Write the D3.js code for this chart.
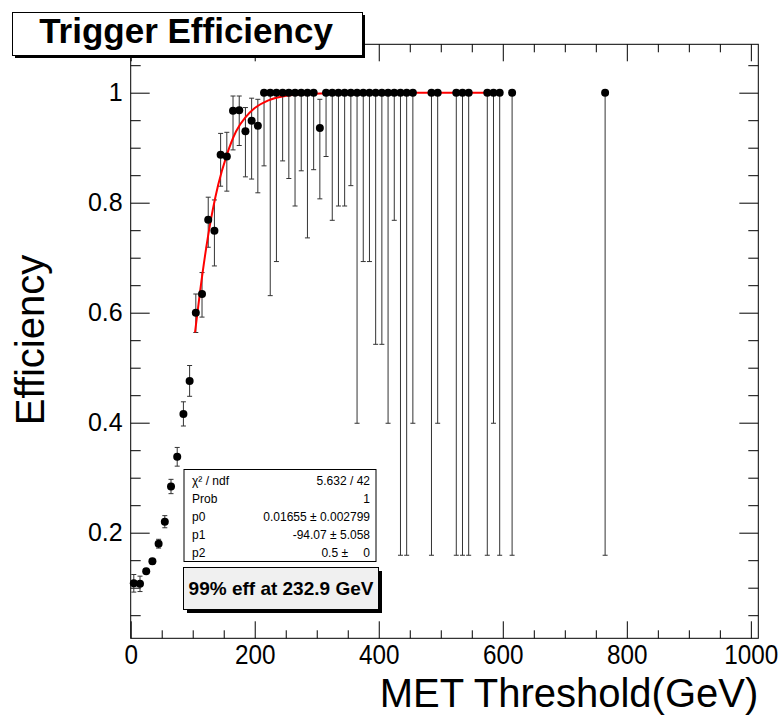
<!DOCTYPE html>
<html>
<head>
<meta charset="utf-8">
<script src="https://cdn.jsdelivr.net/npm/d3@7"></script>
<style>
  body { margin: 0; background: #fff; }
  text { font-family: "Liberation Sans", Arial, sans-serif; }
</style>
</head>
<body>
<div id="chart"></div>
<script>
// bin centres (GeV), efficiency and asymmetric errors
var metBins = [5, 15, 25, 35, 45, 55, 65, 75, 85, 95,
    105, 115, 125, 135, 145, 155, 165, 175, 185, 195,
    205, 215, 225, 235, 245, 255, 265, 275, 285, 295,
    305, 315, 325, 335, 345, 355, 365, 375, 385, 395,
    405, 415, 425, 435, 445, 455, 485, 495, 525, 535,
    545, 575, 585, 595, 615, 765];
var effValues = [0.108, 0.107, 0.130, 0.148, 0.180, 0.220, 0.284, 0.338, 0.416, 0.476,
    0.600, 0.634, 0.769, 0.749, 0.887, 0.884, 0.967, 0.968, 0.930, 0.949,
    0.940, 1, 1, 1, 1, 1, 1, 1, 1, 1,
    0.936, 1, 1, 1, 1, 1, 1, 1, 1, 1,
    1, 1, 1, 1, 1, 1, 1, 1, 1, 1,
    1, 1, 1, 1, 1, 1];
var errLow = [0.016, 0.014, 0.004, 0.005, 0.008, 0.011, 0.013, 0.017, 0.022, 0.028,
    0.036, 0.042, 0.050, 0.064, 0.057, 0.063, 0.071, 0.064, 0.083, 0.106,
    0.122, 0.133, 0.369, 0.307, 0.124, 0.156, 0.206, 0.142, 0.264, 0.140,
    0.129, 0.116, 0.232, 0.206, 0.206, 0.169, 0.601, 0.307, 0.307, 0.4575,
    0.4575, 0.601, 0.232, 0.841, 0.841, 0.601, 0.841, 0.601, 0.841, 0.841,
    0.841, 0.841, 0.601, 0.841, 0.841, 0.841];
var errHigh = [0.016, 0.014, 0.004, 0.005, 0.008, 0.011, 0.013, 0.017, 0.022, 0.028,
    0.034, 0.039, 0.041, 0.056, 0.039, 0.044, 0.027, 0.026, 0.043, 0.041,
    0.048, 0, 0, 0, 0, 0, 0, 0, 0, 0,
    0.052, 0, 0, 0, 0, 0, 0, 0, 0, 0,
    0, 0, 0, 0, 0, 0, 0, 0, 0, 0,
    0, 0, 0, 0, 0, 0];

// fit curve, sampled from the red line
var fitX = [103.7, 111.8, 125, 141, 155, 170, 185, 200, 222, 249, 276, 320, 400, 500, 599];
var fitY = [0.564, 0.638, 0.741, 0.832, 0.887, 0.930, 0.955, 0.972, 0.986, 0.994, 0.997, 0.999, 1, 1, 1];

var xMajor = [0, 200, 400, 600, 800, 1000],
    yMajor = [0.2, 0.4, 0.6, 0.8, 1];

var statRows = [["\u03c7\u00b2 / ndf", "5.632 / 42"], ["Prob", "1"],
    ["p0", "0.01655 \u00b1 0.002799"], ["p1", "-94.07 \u00b1 5.058"], ["p2", "0.5 \u00b1"]];

var width = 784,
    height = 720;

var frame = {left: 130.7, right: 758.3, top: 44.3, bottom: 638.3};

var svg = d3.select("#chart")
    .append("svg")
    .attr("width", width)
    .attr("height", height);

var x = d3.scaleLinear().domain([0, 1012]).range([frame.left, frame.right]);
var y = d3.scaleLinear().domain([0.008, 1.088]).range([frame.bottom, frame.top]);

var xMinor = d3.range(0, 1001, 50).filter(function(d) { return d % 200 != 0; });
var yMinor = d3.range(1, 22).map(function(i) { return +(i * 0.05).toFixed(2); })
    .filter(function(d) { return yMajor.indexOf(d) < 0; });

// frame
svg.append("rect")
    .attr("x", frame.left).attr("y", frame.top)
    .attr("width", frame.right - frame.left)
    .attr("height", frame.bottom - frame.top)
    .attr("fill", "none").attr("stroke", "#000").attr("stroke-width", 1);

function styleAxis(g) {
    g.select(".domain").remove();
    g.selectAll("line").attr("stroke", "#000");
}

// bottom axis with labels (narrow digits as in the original)
svg.append("g")
    .attr("transform", "translate(0," + frame.bottom + ")")
    .call(d3.axisBottom(x).tickValues(xMajor).tickSize(-17).tickSizeOuter(0).tickPadding(7)
        .tickFormat(function(d) { return String(d); }))
    .call(styleAxis)
    .selectAll("text")
    .attr("font-size", "27px")
    .attr("transform", "scale(0.9,1)")
    .attr("fill", "#000");
svg.append("g")
    .attr("transform", "translate(0," + frame.bottom + ")")
    .call(d3.axisBottom(x).tickValues(xMinor).tickSize(-8).tickFormat(""))
    .call(styleAxis);

// top axis, ticks only
svg.append("g")
    .attr("transform", "translate(0," + frame.top + ")")
    .call(d3.axisTop(x).tickValues(xMajor).tickSize(-17).tickFormat(""))
    .call(styleAxis);
svg.append("g")
    .attr("transform", "translate(0," + frame.top + ")")
    .call(d3.axisTop(x).tickValues(xMinor).tickSize(-8).tickFormat(""))
    .call(styleAxis);

// left axis with labels
svg.append("g")
    .attr("transform", "translate(" + frame.left + ",0)")
    .call(d3.axisLeft(y).tickValues(yMajor).tickSize(-19).tickPadding(8)
        .tickFormat(function(d) { return String(d); }))
    .call(styleAxis)
    .selectAll("text")
    .attr("font-size", "25px")
    .attr("fill", "#000");
svg.append("g")
    .attr("transform", "translate(" + frame.left + ",0)")
    .call(d3.axisLeft(y).tickValues(yMinor).tickSize(-10).tickFormat(""))
    .call(styleAxis);

// right axis, ticks only
svg.append("g")
    .attr("transform", "translate(" + frame.right + ",0)")
    .call(d3.axisRight(y).tickValues(yMajor).tickSize(-19).tickFormat(""))
    .call(styleAxis);
svg.append("g")
    .attr("transform", "translate(" + frame.right + ",0)")
    .call(d3.axisRight(y).tickValues(yMinor).tickSize(-10).tickFormat(""))
    .call(styleAxis);

// axis titles
svg.append("text")
    .attr("x", frame.right).attr("y", 707)
    .attr("text-anchor", "end")
    .attr("font-size", "40px")
    .text("MET Threshold(GeV)");

svg.append("text")
    .attr("transform", "translate(44,340) rotate(-90)")
    .attr("text-anchor", "middle")
    .attr("font-size", "40px")
    .text("Efficiency");

// data
var points = metBins.map(function(d, i) {
    return {x: d, y: effValues[i], lo: errLow[i], hi: errHigh[i]};
});

var bars = svg.append("g").attr("stroke", "#333").attr("stroke-width", 1);

bars.selectAll(".err")
    .data(points)
    .enter().append("line")
    .attr("class", "err")
    .attr("x1", function(d) { return x(d.x); })
    .attr("x2", function(d) { return x(d.x); })
    .attr("y1", function(d) { return y(d.y - d.lo); })
    .attr("y2", function(d) { return y(d.y + d.hi); });

bars.selectAll(".capLo")
    .data(points)
    .enter().append("line")
    .attr("class", "capLo")
    .attr("x1", function(d) { return x(d.x) - 2.5; })
    .attr("x2", function(d) { return x(d.x) + 2.5; })
    .attr("y1", function(d) { return y(d.y - d.lo); })
    .attr("y2", function(d) { return y(d.y - d.lo); });

bars.selectAll(".capHi")
    .data(points.filter(function(d) { return d.hi > 0; }))
    .enter().append("line")
    .attr("class", "capHi")
    .attr("x1", function(d) { return x(d.x) - 2.5; })
    .attr("x2", function(d) { return x(d.x) + 2.5; })
    .attr("y1", function(d) { return y(d.y + d.hi); })
    .attr("y2", function(d) { return y(d.y + d.hi); });

// fit line
var fitLine = d3.line()
    .x(function(d) { return x(d[0]); })
    .y(function(d) { return y(d[1]); })
    .curve(d3.curveMonotoneX);

svg.append("path")
    .datum(d3.zip(fitX, fitY))
    .attr("d", fitLine)
    .attr("fill", "none")
    .attr("stroke", "#ff0000")
    .attr("stroke-width", 2);

svg.selectAll(".pt")
    .data(points)
    .enter().append("circle")
    .attr("class", "pt")
    .attr("cx", function(d) { return x(d.x); })
    .attr("cy", function(d) { return y(d.y); })
    .attr("r", 4)
    .attr("fill", "#000");

// stats box
var stats = svg.append("g");
stats.append("rect")
    .attr("x", 184).attr("y", 469.5).attr("width", 192).attr("height", 92)
    .attr("fill", "#fff").attr("stroke", "#000");
statRows.forEach(function(r, i) {
    var by = 484.5 + i * 18;
    stats.append("text").attr("x", 192).attr("y", by).attr("font-size", "12px").text(r[0]);
    stats.append("text").attr("x", i == 4 ? 348 : 370).attr("y", by)
        .attr("text-anchor", "end").attr("font-size", "12px").text(r[1]);
});
stats.append("text").attr("x", 370).attr("y", 484.5 + 4 * 18)
    .attr("text-anchor", "end").attr("font-size", "12px").text("0");

// label box with shadow
svg.append("rect")
    .attr("x", 187).attr("y", 571).attr("width", 195).attr("height", 42)
    .attr("fill", "#000");
svg.append("rect")
    .attr("x", 183.5).attr("y", 567.5).attr("width", 195).attr("height", 42)
    .attr("fill", "#f0f0f0").attr("stroke", "#000");
svg.append("text")
    .attr("x", 281).attr("y", 595)
    .attr("text-anchor", "middle")
    .attr("font-size", "19px").attr("font-weight", "bold")
    .text("99% eff at 232.9 GeV");

// title box with shadow
svg.append("rect")
    .attr("x", 15).attr("y", 15).attr("width", 350).attr("height", 43)
    .attr("fill", "#000");
svg.append("rect")
    .attr("x", 12.5).attr("y", 12.5).attr("width", 350).attr("height", 43)
    .attr("fill", "#fff").attr("stroke", "#000");
svg.append("text")
    .attr("x", 186).attr("y", 43)
    .attr("text-anchor", "middle")
    .attr("font-size", "35px").attr("font-weight", "bold")
    .text("Trigger Efficiency");
</script>
</body>
</html>
